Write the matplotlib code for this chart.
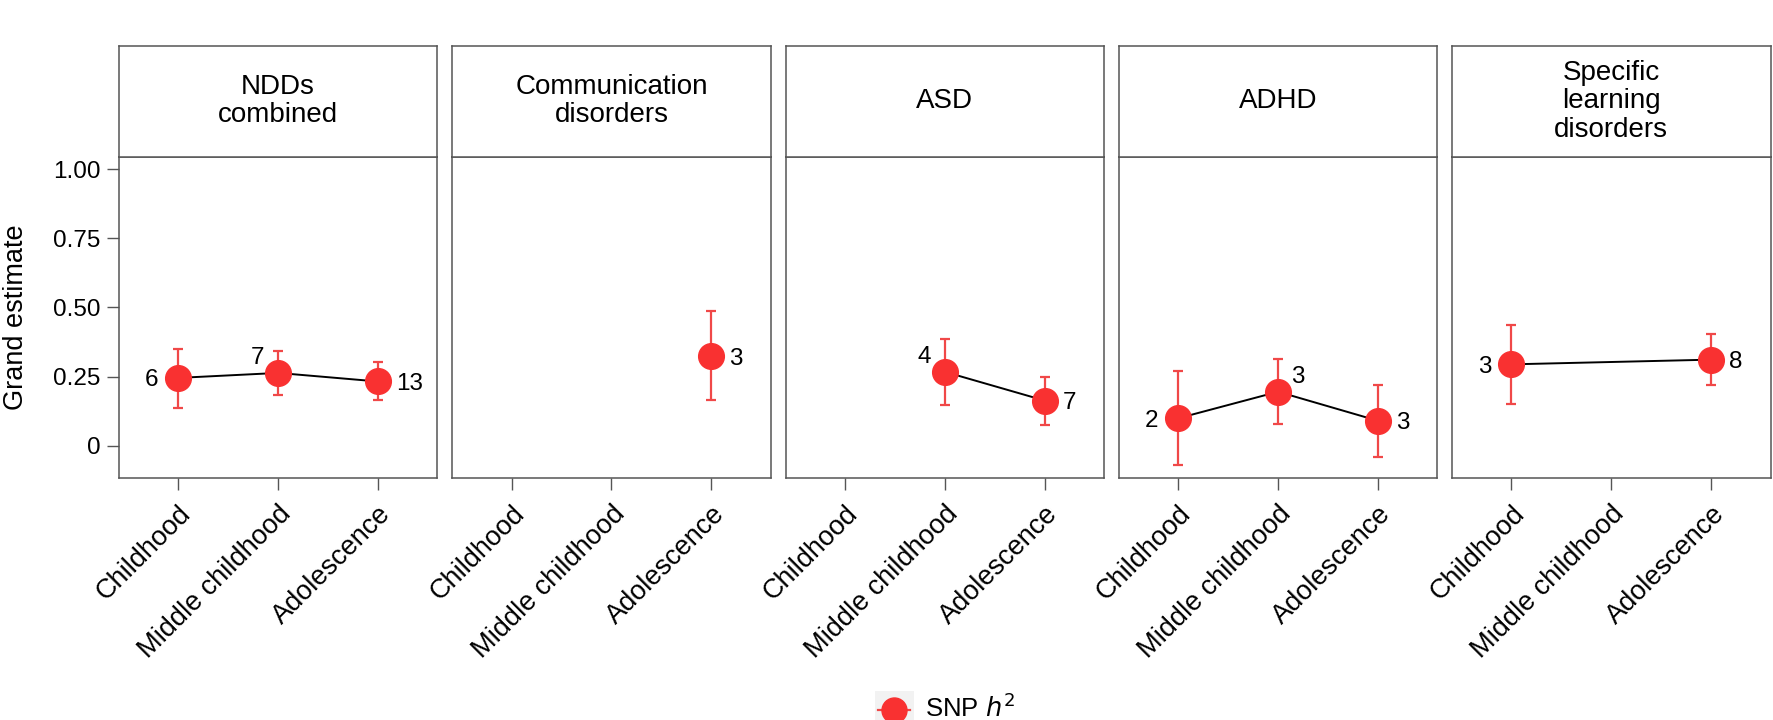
import numpy as np
import matplotlib
matplotlib.use("Agg")
import matplotlib.pyplot as plt
from matplotlib.patches import Rectangle
from matplotlib.lines import Line2D
from matplotlib.transforms import ScaledTranslation

plt.rcParams['font.family'] = ['Liberation Sans', 'DejaVu Sans']

# ---------------- data ----------------
stages = ["Childhood", "Middle childhood", "Adolescence"]
disorders = ["NDDs\ncombined", "Communication\ndisorders", "ASD", "ADHD",
             "Specific\nlearning\ndisorders"]
nan = np.nan
estimate = [[0.245, 0.263, 0.232],
            [nan, nan, 0.324],
            [nan, 0.267, 0.163],
            [0.099, 0.195, 0.090],
            [0.294, nan, 0.311]]
lower = [[0.136, 0.182, 0.166],
         [nan, nan, 0.165],
         [nan, 0.147, 0.075],
         [-0.069, 0.077, -0.041],
         [0.152, nan, 0.219]]
upper = [[0.349, 0.343, 0.301],
         [nan, nan, 0.486],
         [nan, 0.386, 0.247],
         [0.269, 0.312, 0.218],
         [0.435, nan, 0.403]]
n_studies = [[6, 7, 13],
             [None, None, 3],
             [None, 4, 7],
             [2, 3, 3],
             [3, None, 8]]
# label placement relative to point (style)
label_pos = [["left", "upleft", "right"],
             [None, None, "right"],
             [None, "upleft", "right"],
             ["left", "upright", "right"],
             ["left", None, "right"]]
y_ticks = [0, 0.25, 0.50, 0.75, 1.00]
y_ticklabels = ["0", "0.25", "0.50", "0.75", "1.00"]
legend_label = "SNP $h^2$"

# ---------------- style ----------------
W, H = 1773, 720
fig = plt.figure(figsize=(W / 100, H / 100), dpi=100)
frame_col = "#555555"
pt_col = "#F93131"
err_col = "#F04848"

panel_left = [119, 452.3, 785.6, 1118.9, 1452.2]
panel_w = 318.3
panel_top, panel_bot = 156.7, 477.7
strip_top = 45.7

offsets = {"left": (-14.5, 0, "right"), "right": (13, 0, "left"),
           "upleft": (-10, 12.5, "right"), "upright": (9.5, 12.5, "left")}

x = np.arange(1, len(stages) + 1)
axes = []
for i, name in enumerate(disorders):
    l = panel_left[i] / W
    ax = fig.add_axes([l, 1 - panel_bot / H, panel_w / W, (panel_bot - panel_top) / H])
    sax = fig.add_axes([l, 1 - panel_top / H, panel_w / W, (panel_top - strip_top) / H])
    axes.append(ax)

    est = np.array(estimate[i], dtype=float)
    lo = np.array(lower[i], dtype=float)
    hi = np.array(upper[i], dtype=float)
    m = ~np.isnan(est)
    if m.sum() > 1:
        ax.plot(x[m], est[m], color="black", lw=1.4, zorder=2)
    ax.errorbar(x[m], est[m], yerr=[est[m] - lo[m], hi[m] - est[m]], fmt="none",
                ecolor=err_col, elinewidth=1.6, capsize=3.5, capthick=1.6, zorder=3)
    ax.plot(x[m], est[m], "o", ms=18.5, color=pt_col, mec=pt_col, zorder=4, ls="none")
    for j in range(len(stages)):
        if n_studies[i][j] is None:
            continue
        dx, dy, ha = offsets[label_pos[i][j]]
        ax.annotate(str(n_studies[i][j]), (x[j], est[j]), xytext=(dx, dy),
                    textcoords="offset points", ha=ha, va="center_baseline",
                    fontsize=17.5, color="black", zorder=5)

    ax.set_xlim(0.407, 3.593)
    ax.set_ylim(-0.1157, 1.0445)
    ax.set_xticks(x)
    ax.set_xticklabels(stages, rotation=45, ha="right", va="top",
                       rotation_mode="anchor", fontsize=19.5)
    for lab in ax.get_xticklabels():
        lab.set_transform(lab.get_transform() + ScaledTranslation(0.12, 0, fig.dpi_scale_trans))
    ax.tick_params(axis="x", length=8.5, width=1, color=frame_col, pad=8)
    if i == 0:
        ax.set_yticks(y_ticks)
        ax.set_yticklabels(y_ticklabels, fontsize=17.5)
        ax.tick_params(axis="y", length=8.5, width=1, color=frame_col, pad=5)
        ax.set_ylabel("Grand estimate", fontsize=19.5)
        ax.yaxis.set_label_coords((29 - 119) / panel_w, 0.5)
    else:
        ax.set_yticks([])
    for sp in ax.spines.values():
        sp.set_color(frame_col)
        sp.set_linewidth(1.1)

    sax.set_xticks([])
    sax.set_yticks([])
    for sp in sax.spines.values():
        sp.set_color(frame_col)
        sp.set_linewidth(1.1)
    sax.text(0.5, 0.5, name, ha="center", va="center", fontsize=20,
             linespacing=1.12, transform=sax.transAxes)

# ---------------- legend (manual key) ----------------
kx0, kx1, ky0 = 875, 913.5, 690.7
fig.add_artist(Rectangle((kx0 / W, 0), (kx1 - kx0) / W, 1 - ky0 / H,
                         transform=fig.transFigure, facecolor="#F2F2F2",
                         edgecolor="none", zorder=1))
fig.add_artist(Line2D([(kx0 + 3) / W, (kx1 - 3) / W], [1 - 710 / H] * 2,
                      transform=fig.transFigure, color=err_col, lw=1.6, zorder=2))
fig.add_artist(Line2D([(kx0 + kx1) / 2 / W], [1 - 710 / H], marker="o", ms=18,
                      color=pt_col, transform=fig.transFigure, zorder=3, ls="none"))
fig.text(925 / W, 1 - 717 / H, legend_label, ha="left", va="baseline", fontsize=18.5)

fig.savefig("out.png", dpi=100)
